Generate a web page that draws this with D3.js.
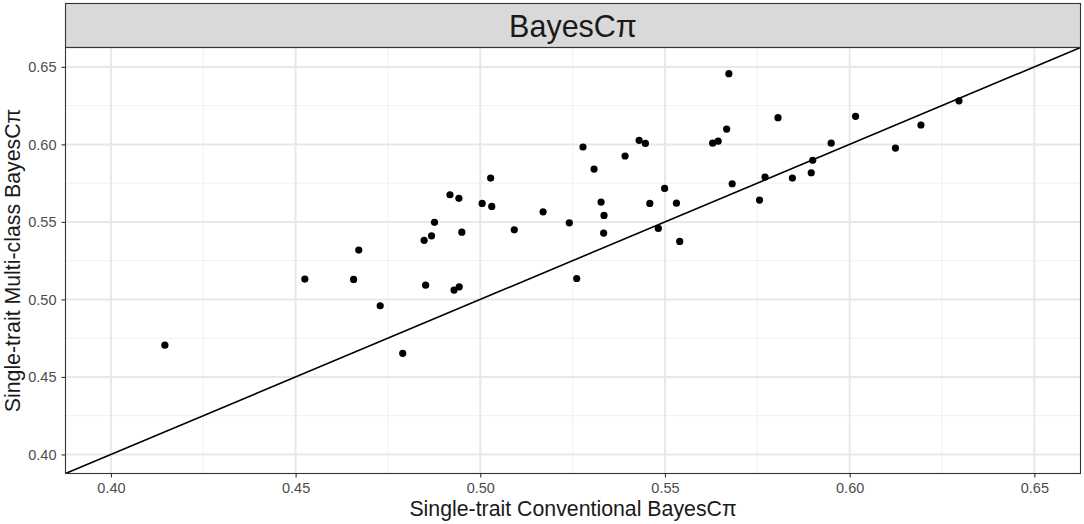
<!DOCTYPE html>
<html>
<head>
<meta charset="utf-8">
<script src="https://cdn.jsdelivr.net/npm/d3@7"></script>
<style>
  body { margin: 0; background: #fff; }
  svg { font-family: "Liberation Sans", Arial, sans-serif; }
</style>
</head>
<body>
<svg id="chart" width="1084" height="524"></svg>
<script>
// Single-trait conventional BayesCpi accuracy (x) vs multi-class BayesCpi (y)
const conventional = [
  0.4146, 0.4525, 0.4657, 0.4671, 0.4729, 0.4790, 0.4848, 0.4852, 0.4868, 0.4876,
  0.4918, 0.4929, 0.4942, 0.4943, 0.4950, 0.5005, 0.5028, 0.5031, 0.5092, 0.5170,
  0.5241, 0.5261, 0.5278, 0.5308, 0.5327, 0.5334, 0.5335, 0.5392, 0.5430, 0.5447,
  0.5459, 0.5482, 0.5499, 0.5531, 0.5540, 0.5629, 0.5644, 0.5667, 0.5673, 0.5682,
  0.5756, 0.5771, 0.5806, 0.5845, 0.5896, 0.5900, 0.5950, 0.6016, 0.6124, 0.6193,
  0.6296
];
const multiClass = [
  0.4705, 0.5131, 0.5129, 0.5318, 0.4959, 0.4652, 0.5381, 0.5092, 0.5410, 0.5497,
  0.5675, 0.5060, 0.5652, 0.5081, 0.5434, 0.5619, 0.5783, 0.5600, 0.5449, 0.5565,
  0.5494, 0.5135, 0.5983, 0.5841, 0.5628, 0.5428, 0.5542, 0.5925, 0.6026, 0.6006,
  0.5619, 0.5458, 0.5716, 0.5621, 0.5374, 0.6008, 0.6021, 0.6099, 0.6456, 0.5746,
  0.5641, 0.5789, 0.6172, 0.5783, 0.5817, 0.5897, 0.6008, 0.6181, 0.5976, 0.6125,
  0.6281
];
const tickValues = [0.40, 0.45, 0.50, 0.55, 0.60, 0.65];
const minorValues = [0.425, 0.475, 0.525, 0.575, 0.625];
const domain = [0.3877, 0.6625];
const stripLabel = "BayesCπ";
const xLabel = "Single-trait Conventional BayesCπ";
const yLabel = "Single-trait Multi-class BayesCπ";

const data = conventional.map((v, i) => ({ x: v, y: multiClass[i] }));

const svg = d3.select("#chart");
const pLeft = 65.5, pRight = 1080.5, pTop = 47.5, pBottom = 473.5, stripTop = 3.5;

const x = d3.scaleLinear().domain(domain).range([pLeft, pRight]);
const y = d3.scaleLinear().domain(domain).range([pBottom, pTop]);

// strip
svg.append("rect")
  .attr("x", pLeft).attr("y", stripTop)
  .attr("width", pRight - pLeft).attr("height", pTop - stripTop)
  .attr("fill", "#d9d9d9").attr("stroke", "#333").attr("stroke-width", 1.1);
svg.append("text")
  .attr("x", (pLeft + pRight) / 2).attr("y", pTop - 10.5)
  .attr("text-anchor", "middle")
  .attr("font-size", 30.5).attr("fill", "#1a1a1a")
  .text(stripLabel);

// grid
const grid = svg.append("g");
minorValues.forEach(v => {
  grid.append("line").attr("x1", x(v)).attr("x2", x(v)).attr("y1", pTop).attr("y2", pBottom)
    .attr("stroke", "#f0f0f0").attr("stroke-width", 1);
  grid.append("line").attr("y1", y(v)).attr("y2", y(v)).attr("x1", pLeft).attr("x2", pRight)
    .attr("stroke", "#f0f0f0").attr("stroke-width", 1);
});
tickValues.forEach(v => {
  grid.append("line").attr("x1", x(v)).attr("x2", x(v)).attr("y1", pTop).attr("y2", pBottom)
    .attr("stroke", "#e8e8e8").attr("stroke-width", 2);
  grid.append("line").attr("y1", y(v)).attr("y2", y(v)).attr("x1", pLeft).attr("x2", pRight)
    .attr("stroke", "#e8e8e8").attr("stroke-width", 2);
});

// identity line y = x
svg.append("clipPath").attr("id", "panel")
  .append("rect").attr("x", pLeft).attr("y", pTop).attr("width", pRight - pLeft).attr("height", pBottom - pTop);
svg.append("line")
  .attr("clip-path", "url(#panel)")
  .attr("x1", x(domain[0])).attr("y1", y(domain[0]))
  .attr("x2", x(domain[1])).attr("y2", y(domain[1]))
  .attr("stroke", "#000").attr("stroke-width", 1.6);

// points
svg.append("g").selectAll("circle")
  .data(data)
  .enter().append("circle")
  .attr("cx", d => x(d.x))
  .attr("cy", d => y(d.y))
  .attr("r", 3.6)
  .attr("fill", "#000");

// panel border
svg.append("rect")
  .attr("x", pLeft).attr("y", pTop)
  .attr("width", pRight - pLeft).attr("height", pBottom - pTop)
  .attr("fill", "none").attr("stroke", "#333").attr("stroke-width", 1.1);

// axes
const fmt = d3.format(".2f");
const xAxis = svg.append("g").attr("transform", `translate(0,${pBottom})`)
  .call(d3.axisBottom(x).tickValues(tickValues).tickFormat(fmt).tickSize(4).tickPadding(5));
const yAxis = svg.append("g").attr("transform", `translate(${pLeft},0)`)
  .call(d3.axisLeft(y).tickValues(tickValues).tickFormat(fmt).tickSize(4).tickPadding(5));
[xAxis, yAxis].forEach(a => {
  a.select(".domain").remove();
  a.selectAll(".tick line").attr("stroke", "#333").attr("stroke-width", 1.1);
  a.selectAll(".tick text").attr("fill", "#4d4d4d").attr("font-size", 14.5)
    .attr("font-family", "'Liberation Sans', Arial, sans-serif");
});

// axis titles
svg.append("text")
  .attr("x", (pLeft + pRight) / 2).attr("y", 516)
  .attr("text-anchor", "middle").attr("font-size", 21.3).attr("fill", "#1a1a1a")
  .text(xLabel);
svg.append("text")
  .attr("transform", `translate(20,${(pTop + pBottom) / 2}) rotate(-90)`)
  .attr("text-anchor", "middle").attr("font-size", 21.3).attr("fill", "#1a1a1a")
  .text(yLabel);
</script>
</body>
</html>
